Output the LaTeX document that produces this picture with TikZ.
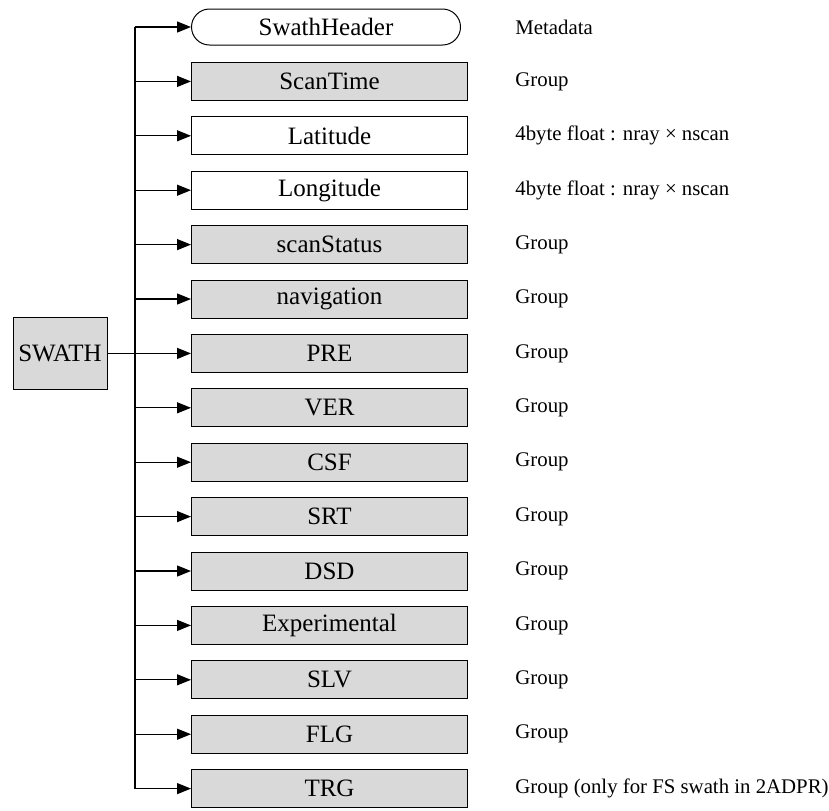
\documentclass[tikz,border=0pt]{standalone}
\usepackage{fontspec}
\setmainfont{Liberation Serif}
\usetikzlibrary{arrows.meta}

\definecolor{boxgray}{RGB}{217,217,217}

\tikzset{
  grpbox/.style={draw, fill=boxgray, line width=0.5pt, minimum width=138pt,
    minimum height=19pt, inner sep=0pt, font=\fontsize{12.5}{15}\selectfont},
  plainbox/.style={grpbox, fill=white},
  hdrbox/.style={grpbox, fill=white, minimum width=134.5pt, minimum height=18pt,
    rounded corners=9pt},
  info/.style={anchor=west, inner sep=0pt, font=\fontsize{10.4}{12.5}\selectfont},
  branch/.style={line width=0.6pt, -{Triangle[length=7pt,width=5.5pt]}}
}

\begin{document}
\begin{tikzpicture}[x=0.5pt,y=-0.5pt]
  \useasboundingbox (0,0) rectangle (829,810);

  % boxes and their descriptions
  \foreach \Name/\Label/\Info/\Kind [count=\i from 0] in {
    hdr/SwathHeader/Metadata/hdrbox,
    scantime/ScanTime/Group/grpbox,
    lat/Latitude/4byte float : nray × nscan/plainbox,
    lon/Longitude/4byte float : nray × nscan/plainbox,
    scanstatus/scanStatus/Group/grpbox,
    nav/navigation/Group/grpbox,
    pre/PRE/Group/grpbox,
    ver/VER/Group/grpbox,
    csf/CSF/Group/grpbox,
    srt/SRT/Group/grpbox,
    dsd/DSD/Group/grpbox,
    exper/Experimental/Group/grpbox,
    slv/SLV/Group/grpbox,
    flg/FLG/Group/grpbox,
    trg/TRG/Group (only for FS swath in 2ADPR)/grpbox}{
    \pgfmathsetmacro\y{27+54.4*\i}
    \node[\Kind, anchor=west] (\Name) at (191, \y) {\Label};
    \node[info] (\Name-info) at (515, \y) {\Info};
  };

  % root
  \node[grpbox, minimum width=47pt, minimum height=36pt] (swath) at (60, 353.4) {SWATH};

  % bus
  \coordinate (bustop) at (135, 27);
  \coordinate (busbot) at (135, 788.6);
  \draw[line width=0.8pt] (bustop) -- (busbot);
  \draw[line width=0.6pt] (swath.east) -- (swath.east -| bustop);

  \foreach \Name in {hdr, scantime, lat, lon, scanstatus, nav, pre, ver, csf,
    srt, dsd, exper, slv, flg, trg}{
      \draw[branch] (\Name.west -| bustop) -- (\Name.west);
  };
\end{tikzpicture}
\end{document}
